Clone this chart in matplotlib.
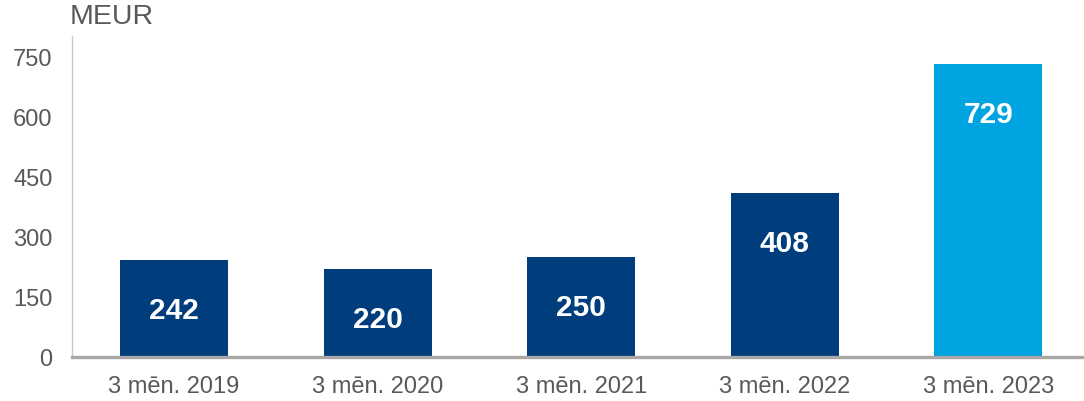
import numpy as np
import matplotlib.pyplot as plt

plt.rcParams['font.family'] = ['Liberation Sans', 'DejaVu Sans']

# Dati
periods = ['3 mēn. 2019', '3 mēn. 2020', '3 mēn. 2021', '3 mēn. 2022', '3 mēn. 2023']
values = [242, 220, 250, 408, 729]
colors = ['#003d7c', '#003d7c', '#003d7c', '#003d7c', '#00a4e1']

fig = plt.figure(figsize=(10.84, 4.02), dpi=100)
ax = fig.add_axes([0.0666, 0.1095, 0.939, 0.7985])

x = np.arange(len(periods))
bars = ax.bar(x, values, width=0.53, color=colors, zorder=2)

# Vērtības joslu iekšpusē
for rect, v in zip(bars, values):
    ax.annotate(str(v), (rect.get_x() + rect.get_width() / 2, v),
                xytext=(0, -50), textcoords='offset pixels',
                ha='center', va='center', color='white',
                fontsize=21.5, fontweight='bold')

ax.set_xlim(-0.5, len(periods) - 0.5)
ax.set_ylim(0, 800)
ax.set_yticks([0, 150, 300, 450, 600, 750])
ax.set_xticks(x)
ax.set_xticklabels(periods)
ax.tick_params(axis='both', length=0, labelsize=17, colors='#595959')
ax.tick_params(axis='y', pad=14)
ax.tick_params(axis='x', pad=13)

for s in ['top', 'right']:
    ax.spines[s].set_visible(False)
ax.spines['left'].set_color('#c8c8c8')
ax.spines['left'].set_linewidth(1)
ax.spines['bottom'].set_color('#aba7a6')
ax.spines['bottom'].set_linewidth(2.4)
ax.spines['bottom'].set_zorder(3)

fig.text(70 / 1084, 1 - 17 / 402, 'MEUR', ha='left', va='center',
         fontsize=20.5, color='#595959')

fig.savefig('out.png', dpi=100)
